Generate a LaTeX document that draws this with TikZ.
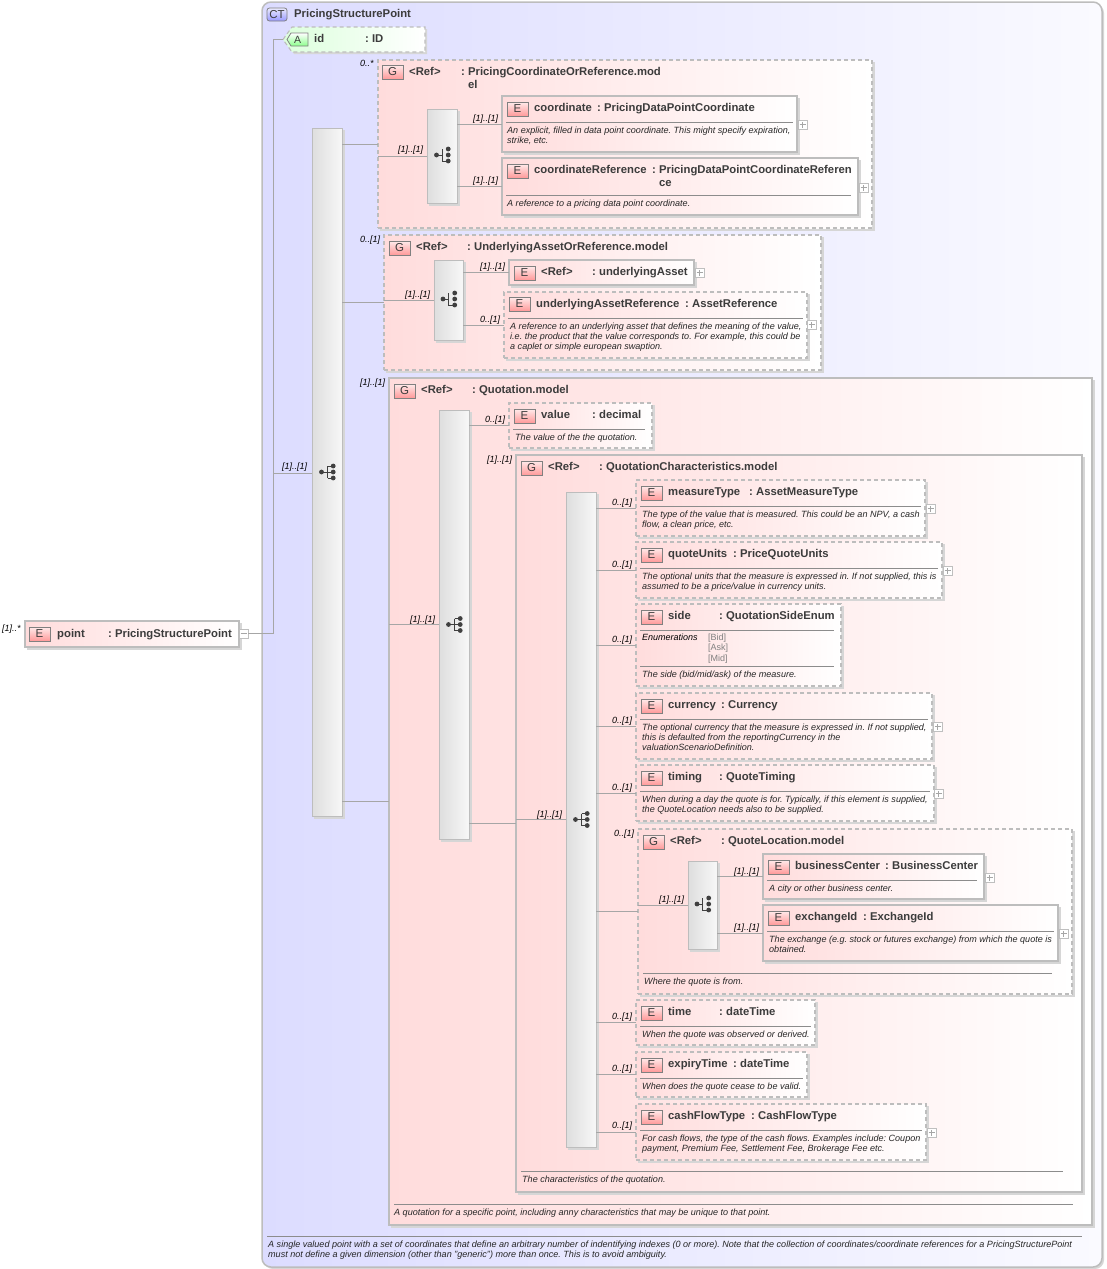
\documentclass[tikz,border=0pt]{standalone}
\usepackage{fontspec}
\setmainfont{Liberation Sans}
\frenchspacing
\definecolor{shc}{HTML}{D6D6D6}
\definecolor{bdc}{HTML}{BDBDBD}
\definecolor{cnc}{HTML}{A6A6A6}
\definecolor{ttc}{HTML}{3C3C3C}
\definecolor{dsc}{HTML}{262626}
\definecolor{pinkc}{HTML}{FFDCDC}
\definecolor{pinkm}{HTML}{FFF0F0}
\definecolor{bluec}{HTML}{DCDCFF}
\definecolor{bluem}{HTML}{E8E8FF}
\definecolor{bluer}{HTML}{FAFAFF}
\definecolor{greenc}{HTML}{DCFFDC}
\tikzset{
 solidbox/.style={draw=bdc,line width=1.1pt,left color=pinkc,middle color=pinkm,right color=white},
 dashbox/.style={solidbox,dash pattern=on 4pt off 3pt},
 barbox/.style={draw=bdc,line width=1pt,left color=black!13,right color=black!3},
 cnline/.style={draw=cnc,line width=.8pt},
 seprule/.style={draw=black!45,line width=.7pt},
 ttlx/.style={font=\fontsize{11.3}{12}\selectfont\bfseries,text=ttc,anchor=base west,inner sep=0},
 dscx/.style={font=\fontsize{9.05}{10}\selectfont\itshape,text=dsc,anchor=north west,inner sep=0,align=left},
 mulx/.style={font=\fontsize{9}{10}\selectfont\itshape,text=black,anchor=base west,inner sep=0},
 enumx/.style={font=\fontsize{9}{10}\selectfont,text=black!50,anchor=base west,inner sep=0},
 badge/.style={draw=black!50,line width=.8pt,top color=#1!8,bottom color=#1!40,font=\fontsize{11.5}{12}\selectfont,text=ttc,inner sep=0,outer sep=0,anchor=north west,minimum width=21pt,minimum height=14pt},
 badge/.default=red,
 pbox/.style={draw=black!25,fill=white,line width=.7pt,inner sep=0,outer sep=0,anchor=north west,minimum width=9pt,minimum height=9pt,
   path picture={\draw[black!35,line width=.7pt] ([xshift=-3pt]path picture bounding box.center)--([xshift=3pt]path picture bounding box.center);
   \ifnum#1=1 \draw[black!35,line width=.7pt] ([yshift=-3pt]path picture bounding box.center)--([yshift=3pt]path picture bounding box.center);\fi}},
 pbox/.default=1,
}
\newcounter{nn}
\newcommand\bx[6]{\fill[shc] (#3+2,#4+2) rectangle (#5+2.5,#6+2.5);
 \node[#1,anchor=north west,inner sep=0,outer sep=0,minimum width={#5pt-#3pt},minimum height={#6pt-#4pt}] (#2) at (#3,#4) {};}
\newcommand\tl[3]{\stepcounter{nn}\node[ttlx] (t\thenn) at (#1,#2+4) {#3};}
\newcommand\ds[3]{\stepcounter{nn}\node[dscx] (t\thenn) at (#1,#2-4) {\rule{0pt}{7pt}#3};}
\newcommand\mul[3]{\stepcounter{nn}\node[mulx] (t\thenn) at (#1,#2+3) {#3};}
\newcommand\bd[3]{\stepcounter{nn}\node[badge] (t\thenn) at (#1,#2) {#3};}
\newcommand\pl[3]{\node[pbox] (#1) at (#2,#3) {};}
\newcommand\rl[3]{\draw[seprule] (#1,#3) -- (#2,#3);}
\newcommand\icseq[1]{\begin{scope}[shift={(#1.center)}]
 \draw[black!75,line width=1pt] (-5.5,0)--(6,0) (.5,-6)--(.5,6) (.5,-6)--(6,-6) (.5,6)--(6,6);
 \fill[black!75] (-5.5,0) circle (2.4) (6.2,-6) circle (2.4) (6.2,0) circle (2.4) (6.2,6) circle (2.4);
 \end{scope}}
\newcommand\icch[1]{\begin{scope}[shift={(#1.center)}]
 \draw[black!75,line width=1pt] (-5.5,-1)--(.3,-1) (.3,-7)--(.3,5)--(6,5);
 \fill[black!75] (-5.5,-1) circle (2.4) (6.2,-7) circle (2.4) (6.2,-1) circle (2.4) (6.2,5) circle (2.4);
 \end{scope}}
\begin{document}
\begin{tikzpicture}[x=1pt,y=-1pt]
\useasboundingbox (0,0) rectangle (1106,1269);
\fill[white] (0,0) rectangle (1106,1269);
% complex type
\fill[shc,rounded corners=9pt] (264,4) rectangle (1104,1269);
\node[draw=bdc,line width=1.5pt,left color=bluec,middle color=bluem,right color=bluer,rounded corners=9pt,anchor=north west,inner sep=0,outer sep=0,minimum width=840pt,minimum height=1265pt] (ct) at (262,2) {};
\node[badge=blue,rounded corners=2.5pt,minimum width=20pt,minimum height=13pt] (ctb) at (267,8) {CT};
\tl{294}{13}{PricingStructurePoint}
\ds{268}{1244}{A single valued point with a set of coordinates that define an arbitrary number of indentifying indexes (0 or more). Note that the collection of coordinates/coordinate references for a PricingStructurePoint\\must not define a given dimension (other than "generic") more than once. This is to avoid ambiguity.}
\rl{267}{1082}{1236}
% attribute
\fill[shc] (285,41.5)--(294,29)--(427,29)--(427,54)--(294,54)--cycle;
\shade[draw=bdc,line width=1.1pt,dash pattern=on 4pt off 3pt,left color=greenc,right color=white] (283,39.5)--(292,27)--(425,27)--(425,52)--(292,52)--cycle;
\coordinate (idw) at (283,39.5);
\shade[draw=black!50,line width=.8pt,top color=white,bottom color=green!45] (287,39.5)--(291,33)--(308,33)--(308,46)--(291,46)--cycle;
\stepcounter{nn}\node[font=\fontsize{10.5}{12}\selectfont,text=ttc,inner sep=0] (t\thenn) at (297.5,40) {A};
\tl{314}{38}{id}\tl{365}{38}{: ID}
% root element
\bx{solidbox}{point}{25}{621}{239}{647}
\bd{29}{627}{E}\tl{57}{633}{point}\tl{108}{633}{: PricingStructurePoint}
\mul{2}{628}{[1]..*}
\node[pbox=0] (pointm) at (239,629) {};
\coordinate (jn) at (273,473);
% outer sequence
\bx{barbox}{bar1}{312}{128}{342}{816}
\icseq{bar1}
\mul{282}{466}{[1]..[1]}
% group 1
\bx{dashbox}{g1}{378}{60}{872}{228}
\mul{360}{63}{0..*}
\bd{382}{65}{G}\tl{409}{71}{<Ref>}\tl{461}{71}{: PricingCoordinateOrReference.mod}\tl{468}{84}{el}
\bx{barbox}{bar1a}{427}{109}{457}{203}\icch{bar1a}
\mul{398}{149}{[1]..[1]}
\bx{solidbox}{coord}{502}{96}{797}{152}
\bd{507}{102}{E}\tl{534}{107}{coordinate}\tl{597}{107}{: PricingDataPointCoordinate}
\rl{506}{793}{122}\ds{507}{130}{An explicit, filled in data point coordinate. This might specify expiration,\\strike, etc.}
\pl{coordp}{798}{120}\mul{473}{118}{[1]..[1]}
\bx{solidbox}{coordr}{502}{158}{858}{215}
\bd{507}{164}{E}\tl{534}{169}{coordinateReference}\tl{652}{169}{: PricingDataPointCoordinateReferen}\tl{659}{182}{ce}
\rl{506}{851}{195}\ds{507}{203}{A reference to a pricing data point coordinate.}
\pl{coordrp}{859}{183}\mul{473}{180}{[1]..[1]}
% group 2
\bx{dashbox}{g2}{384}{235}{821}{370}
\mul{360}{239}{0..[1]}
\bd{389}{241}{G}\tl{416}{246}{<Ref>}\tl{467}{246}{: UnderlyingAssetOrReference.model}
\bx{barbox}{bar2a}{434}{260}{463}{340}\icch{bar2a}
\mul{405}{294}{[1]..[1]}
\bx{solidbox}{ua}{509}{260}{694}{285}
\bd{514}{266}{E}\tl{541}{271}{<Ref>}\tl{592}{271}{: underlyingAsset}
\pl{uap}{695}{268}\mul{480}{266}{[1]..[1]}
\bx{dashbox}{uar}{504}{292}{807}{358}
\bd{509}{297}{E}\tl{536}{303}{underlyingAssetReference}\tl{685}{303}{: AssetReference}
\rl{508}{803}{318}\ds{510}{326}{A reference to an underlying asset that defines the meaning of the value,\\i.e. the product that the value corresponds to. For example, this could be\\a caplet or simple european swaption.}
\pl{uarp}{807}{320}\mul{480}{319}{0..[1]}
% group 3
\bx{solidbox}{g3}{389}{378}{1092}{1225}
\mul{360}{382}{[1]..[1]}
\bd{394}{384}{G}\tl{421}{389}{<Ref>}\tl{472}{389}{: Quotation.model}
\rl{394}{1073}{1204}\ds{394}{1212}{A quotation for a specific point, including anny characteristics that may be unique to that point.}
\bx{barbox}{bar3a}{439}{410}{469}{839}\icseq{bar3a}
\mul{410}{619}{[1]..[1]}
\bx{dashbox}{val}{509}{403}{652}{448}
\bd{514}{409}{E}\tl{541}{414}{value}\tl{592}{414}{: decimal}
\rl{513}{645}{429}\ds{515}{437}{The value of the the quotation.}
\mul{485}{419}{0..[1]}
% group 4
\bx{solidbox}{g4}{516}{455}{1082}{1192}
\mul{487}{459}{[1]..[1]}
\bd{521}{461}{G}\tl{548}{466}{<Ref>}\tl{599}{466}{: QuotationCharacteristics.model}
\rl{521}{1063}{1171}\ds{522}{1179}{The characteristics of the quotation.}
\bx{barbox}{bar4a}{566}{492}{596}{1147}\icseq{bar4a}
\mul{537}{814}{[1]..[1]}
% measureType
\bx{dashbox}{mt}{636}{480}{925}{536}
\bd{641}{486}{E}\tl{668}{491}{measureType}\tl{749}{491}{: AssetMeasureType}
\rl{640}{921}{506}\ds{642}{514}{The type of the value that is measured. This could be an NPV, a cash\\flow, a clean price, etc.}
\pl{mtp}{926}{504}\mul{612}{502}{0..[1]}
% quoteUnits
\bx{dashbox}{qu}{636}{542}{942}{598}
\bd{641}{548}{E}\tl{668}{553}{quoteUnits}\tl{733}{553}{: PriceQuoteUnits}
\rl{640}{938}{568}\ds{642}{576}{The optional units that the measure is expressed in. If not supplied, this is\\assumed to be a price/value in currency units.}
\pl{qup}{943}{566}\mul{612}{564}{0..[1]}
% side
\bx{dashbox}{side}{636}{604}{841}{686}
\bd{641}{610}{E}\tl{668}{615}{side}\tl{719}{615}{: QuotationSideEnum}
\rl{640}{834}{630}
\stepcounter{nn}\node[mulx,font=\fontsize{9}{10}\selectfont\itshape] (t\thenn) at (642,640.5) {Enumerations};
\stepcounter{nn}\node[enumx] (t\thenn) at (708,640) {[Bid]};
\stepcounter{nn}\node[enumx] (t\thenn) at (708,650) {[Ask]};
\stepcounter{nn}\node[enumx] (t\thenn) at (708,661) {[Mid]};
\rl{640}{834}{666}\ds{642}{674}{The side (bid/mid/ask) of the measure.}
\mul{612}{639}{0..[1]}
% currency
\bx{dashbox}{cur}{636}{693}{932}{759}
\bd{641}{699}{E}\tl{668}{704}{currency}\tl{721}{704}{: Currency}
\rl{640}{928}{719}\ds{642}{727}{The optional currency that the measure is expressed in. If not supplied,\\this is defaulted from the reportingCurrency in the\\valuationScenarioDefinition.}
\pl{curp}{933}{722}\mul{612}{720}{0..[1]}
% timing
\bx{dashbox}{tim}{636}{765}{934}{821}
\bd{641}{771}{E}\tl{668}{776}{timing}\tl{719}{776}{: QuoteTiming}
\rl{640}{930}{791}\ds{642}{799}{When during a day the quote is for. Typically, if this element is supplied,\\the QuoteLocation needs also to be supplied.}
\pl{timp}{934}{789}\mul{612}{787}{0..[1]}
% quote location
\bx{dashbox}{ql}{638}{829}{1072}{994}
\mul{614}{833}{0..[1]}
\bd{643}{835}{G}\tl{670}{840}{<Ref>}\tl{721}{840}{: QuoteLocation.model}
\rl{643}{1052}{973}\ds{644}{981}{Where the quote is from.}
\bx{barbox}{barqa}{688}{861}{717}{949}\icch{barqa}
\mul{659}{899}{[1]..[1]}
\bx{solidbox}{bc}{763}{854}{984}{899}
\bd{768}{860}{E}\tl{795}{865}{businessCenter}\tl{885}{865}{: BusinessCenter}
\rl{767}{977}{880}\ds{769}{888}{A city or other business center.}
\pl{bcp}{985}{873}\mul{734}{871}{[1]..[1]}
\bx{solidbox}{ex}{763}{905}{1058}{961}
\bd{768}{911}{E}\tl{795}{916}{exchangeId}\tl{863}{916}{: ExchangeId}
\rl{767}{1054}{931}\ds{769}{939}{The exchange (e.g. stock or futures exchange) from which the quote is\\obtained.}
\pl{exp}{1059}{929}\mul{734}{927}{[1]..[1]}
% time
\bx{dashbox}{tm}{636}{1000}{815}{1045}
\bd{641}{1006}{E}\tl{668}{1011}{time}\tl{719}{1011}{: dateTime}
\rl{640}{811}{1026}\ds{642}{1034}{When the quote was observed or derived.}
\mul{612}{1016}{0..[1]}
% expiryTime
\bx{dashbox}{et}{636}{1052}{807}{1097}
\bd{641}{1058}{E}\tl{668}{1063}{expiryTime}\tl{733}{1063}{: dateTime}
\rl{640}{803}{1078}\ds{642}{1086}{When does the quote cease to be valid.}
\mul{612}{1068}{0..[1]}
% cashFlowType
\bx{dashbox}{cf}{636}{1104}{926}{1160}
\bd{641}{1110}{E}\tl{668}{1115}{cashFlowType}\tl{751}{1115}{: CashFlowType}
\rl{640}{922}{1130}\ds{642}{1138}{For cash flows, the type of the cash flows. Examples include: Coupon\\payment, Premium Fee, Settlement Fee, Brokerage Fee etc.}
\pl{cfp}{927}{1128}\mul{612}{1125}{0..[1]}
% connectors
\draw[cnline] (pointm.east) -- (pointm.east -| jn) -- (jn |- idw) -- (idw);
\draw[cnline] (jn) -- (jn -| bar1.west);
\foreach \gg in {g1,g2,g3} \draw[cnline] (bar1.east |- \gg.west) -- (\gg.west);
\draw[cnline] (bar1a.west) -- (bar1a.west -| g1.west);
\draw[cnline] (bar2a.west) -- (bar2a.west -| g2.west);
\draw[cnline] (bar3a.west) -- (bar3a.west -| g3.west);
\draw[cnline] (bar4a.west) -- (bar4a.west -| g4.west);
\draw[cnline] (barqa.west) -- (barqa.west -| ql.west);
\foreach \ee in {coord,coordr} \draw[cnline] (bar1a.east |- \ee.west) -- (\ee.west);
\draw[cnline] (bar2a.east |- ua.west) -- (ua.west);
\draw[cnline] (bar2a.east |- uar.west) -- (uar.west);
\foreach \ee in {val,g4} \draw[cnline] (bar3a.east |- \ee.west) -- (\ee.west);
\foreach \ee in {mt,qu,side,cur,tim,ql,tm,et,cf} \draw[cnline] (bar4a.east |- \ee.west) -- (\ee.west);
\foreach \ee in {bc,ex} \draw[cnline] (barqa.east |- \ee.west) -- (\ee.west);
\end{tikzpicture}
\end{document}
